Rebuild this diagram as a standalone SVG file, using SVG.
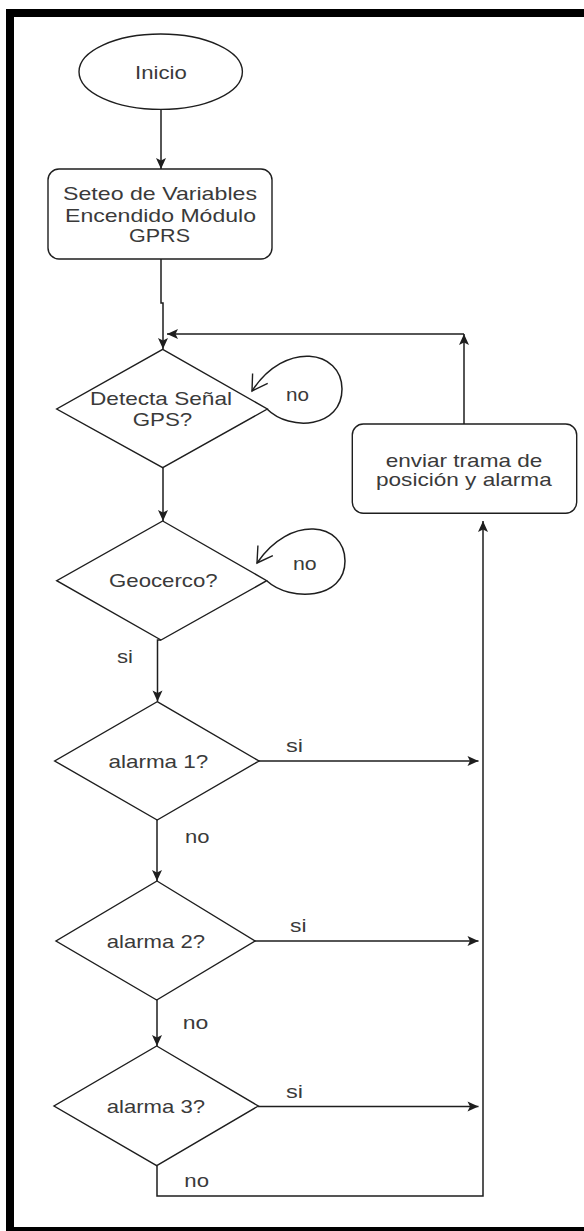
<svg xmlns="http://www.w3.org/2000/svg" width="584" height="1231" viewBox="0 0 584 1231">
  <style>
    .shape { fill: #ffffff; stroke: #1e1e1e; stroke-width: 1.4; }
    .edge { fill: none; stroke: #1e1e1e; stroke-width: 1.5; }
    .lbl { font-family: "Liberation Sans", Arial, sans-serif; font-size: 19px; fill: #3a3a3a; }
  </style>
  <defs>
    <marker id="arrow" markerUnits="userSpaceOnUse" markerWidth="14" markerHeight="12" viewBox="-1 -6 14 12" refX="11" refY="0" orient="auto">
      <path d="M0,-5 L11,0 L0,5 L2.5,0 Z" fill="#1e1e1e"/>
    </marker>
    <marker id="open" markerUnits="userSpaceOnUse" markerWidth="24" markerHeight="24" viewBox="-18 -12 22 24" refX="0" refY="0" orient="auto">
      <path d="M-15,-9 L0,0 L-15,9" fill="none" stroke="#1e1e1e" stroke-width="1.4"/>
    </marker>
  </defs>

  <rect x="0" y="0" width="584" height="1231" fill="#ffffff"/>
  <!-- outer frame -->
  <rect x="10" y="13" width="600" height="1218" fill="none" stroke="#000000" stroke-width="8"/>

  <g id="connectors">
    <path class="edge" d="M161,109.5 V169" marker-end="url(#arrow)"/>
    <path class="edge" d="M161,259 V303 H163 V349" marker-end="url(#arrow)"/>
    <path class="edge" d="M464,424 V334" marker-end="url(#arrow)"/>
    <path class="edge" d="M464,334 H167" marker-end="url(#arrow)"/>
    <path class="edge" d="M163,468 V521" marker-end="url(#arrow)"/>
    <path class="edge" d="M267,409 C290,432 342,428 342,389 C342,350 285,340 252,391" marker-end="url(#open)"/>
    <path class="edge" d="M267,581 C290,602 345,600 345,561 C345,522 290,514 257,563" marker-end="url(#open)"/>
    <path class="edge" d="M161,640 H157.5 V701.5" marker-end="url(#arrow)"/>
    <path class="edge" d="M157,820 V881" marker-end="url(#arrow)"/>
    <path class="edge" d="M157,1000 V1046" marker-end="url(#arrow)"/>
    <path class="edge" d="M259,761 H478.5" marker-end="url(#arrow)"/>
    <path class="edge" d="M255,941 H478.5" marker-end="url(#arrow)"/>
    <path class="edge" d="M258,1106.5 H478.5" marker-end="url(#arrow)"/>
    <path class="edge" d="M157,1166 V1196 H483 V521" marker-end="url(#arrow)"/>
  </g>

  <g id="inicio">
    <ellipse class="shape" cx="160.7" cy="71.7" rx="81.7" ry="37.7"/>
    <text class="lbl" x="135" y="79" textLength="51.7" lengthAdjust="spacingAndGlyphs">Inicio</text>
  </g>

  <g id="seteo">
    <rect class="shape" x="48" y="169" width="224" height="90" rx="11" ry="11"/>
    <text class="lbl" x="63" y="200" textLength="194" lengthAdjust="spacingAndGlyphs">Seteo de Variables</text>
    <text class="lbl" x="65" y="221.5" textLength="191" lengthAdjust="spacingAndGlyphs">Encendido Módulo</text>
    <text class="lbl" x="129" y="241.5" textLength="61" lengthAdjust="spacingAndGlyphs">GPRS</text>
  </g>

  <g id="detecta">
    <polygon class="shape" points="162.7,349.3 267.3,409 162.7,467.7 56.7,409"/>
    <text class="lbl" x="90" y="405" textLength="142" lengthAdjust="spacingAndGlyphs">Detecta Señal</text>
    <text class="lbl" x="132.7" y="426" textLength="59.6" lengthAdjust="spacingAndGlyphs">GPS?</text>
    <text class="lbl" x="286" y="401" textLength="23" lengthAdjust="spacingAndGlyphs">no</text>
  </g>

  <g id="geocerco">
    <polygon class="shape" points="162.7,521 266.7,580.7 161,640 56.7,580.7"/>
    <text class="lbl" x="109" y="587" textLength="108.7" lengthAdjust="spacingAndGlyphs">Geocerco?</text>
    <text class="lbl" x="293" y="570" textLength="23.7" lengthAdjust="spacingAndGlyphs">no</text>
    <text class="lbl" x="117" y="663" textLength="16" lengthAdjust="spacingAndGlyphs">si</text>
  </g>

  <g id="enviar">
    <rect class="shape" x="352.3" y="424" width="224.4" height="89.3" rx="11" ry="11"/>
    <text class="lbl" x="385.7" y="466.5" textLength="156.6" lengthAdjust="spacingAndGlyphs">enviar trama de</text>
    <text class="lbl" x="376" y="485.5" textLength="175.7" lengthAdjust="spacingAndGlyphs">posición y alarma</text>
  </g>

  <g id="alarma1">
    <polygon class="shape" points="157.2,701.7 259,761 157.2,820 54.7,761"/>
    <text class="lbl" x="108.4" y="768" textLength="100" lengthAdjust="spacingAndGlyphs">alarma 1?</text>
    <text class="lbl" x="286" y="752" textLength="17" lengthAdjust="spacingAndGlyphs">si</text>
    <text class="lbl" x="185" y="843" textLength="24.5" lengthAdjust="spacingAndGlyphs">no</text>
  </g>

  <g id="alarma2">
    <polygon class="shape" points="157,881 255,941 156.7,1000 56,941"/>
    <text class="lbl" x="106.7" y="948" textLength="98.3" lengthAdjust="spacingAndGlyphs">alarma 2?</text>
    <text class="lbl" x="290" y="932" textLength="16.5" lengthAdjust="spacingAndGlyphs">si</text>
    <text class="lbl" x="182.7" y="1029" textLength="25.6" lengthAdjust="spacingAndGlyphs">no</text>
  </g>

  <g id="alarma3">
    <polygon class="shape" points="156.7,1046 258.3,1106 156.7,1165.7 54,1106"/>
    <text class="lbl" x="106.7" y="1112.5" textLength="98.3" lengthAdjust="spacingAndGlyphs">alarma 3?</text>
    <text class="lbl" x="286" y="1097.5" textLength="17" lengthAdjust="spacingAndGlyphs">si</text>
    <text class="lbl" x="184.3" y="1187" textLength="24.7" lengthAdjust="spacingAndGlyphs">no</text>
  </g>
</svg>
